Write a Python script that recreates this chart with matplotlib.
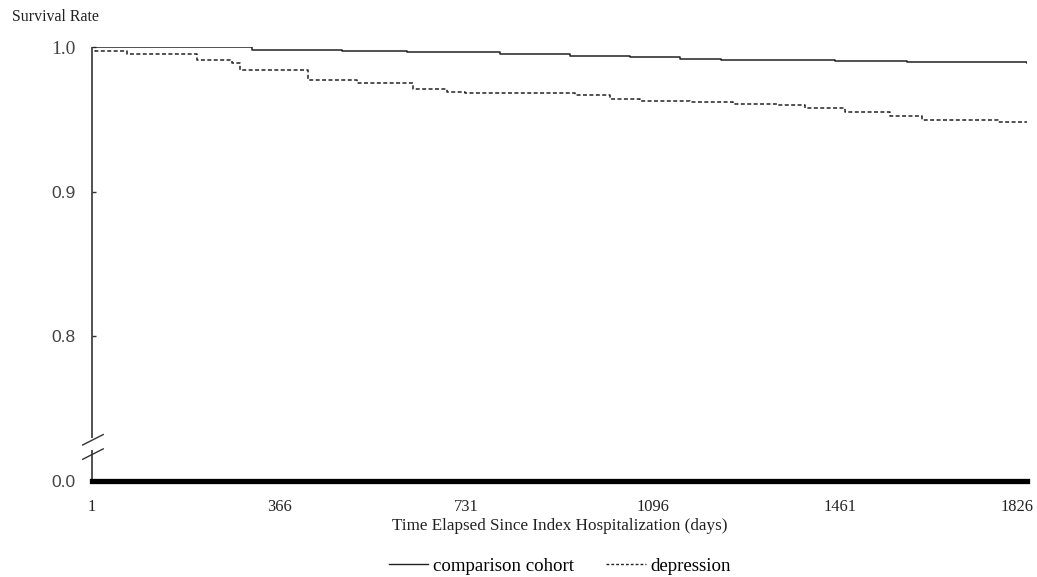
import matplotlib
matplotlib.use("Agg")
import matplotlib.pyplot as plt
from matplotlib.lines import Line2D
import matplotlib.transforms as mtransforms

# ---- data ----
days_cmp = [1, 313, 489, 616, 797, 934, 1051, 1149, 1229, 1451, 1592, 1826]
surv_cmp = [1.000, 0.998, 0.9971, 0.9962, 0.9950, 0.9940, 0.9928, 0.9920,
            0.9909, 0.9902, 0.9893, 0.9890]

days_dep = [1, 6, 69, 206, 274, 290, 423, 518, 628, 694, 729, 944, 1012,
            1071, 1168, 1252, 1340, 1393, 1471, 1559, 1621, 1770, 1826]
surv_dep = [1.000, 0.9973, 0.9951, 0.9911, 0.9888, 0.9842, 0.9773, 0.9751,
            0.9711, 0.9689, 0.9682, 0.9665, 0.9643, 0.9629, 0.9620, 0.9608,
            0.9597, 0.9579, 0.9548, 0.9521, 0.9498, 0.9480, 0.9480]

x_ticks = [1, 366, 731, 1096, 1461, 1826]
y_ticks = [0.7, 0.8, 0.9, 1.0]           # 0.7 position shows the broken-axis "0.0"
y_tick_labels = ["0.0", "0.8", "0.9", "1.0"]

W, H = 1037, 577
fig = plt.figure(figsize=(W / 100, H / 100), dpi=100)
left, right, top, bottom = 92, 1027, 47, 481
ax = fig.add_axes([left / W, 1 - bottom / H, (right - left) / W, (bottom - top) / H])

col = "#222222"
ax.step(days_cmp, surv_cmp, where="post", color=col, lw=1.1, label="comparison cohort")
ax.step(days_dep, surv_dep, where="post", color=col, lw=1.1, dashes=(2.6, 1.6),
        label="depression")

ax.set_xlim(1, 1826)
ax.set_ylim(0.7, 1.0)

for s in ["top", "right", "left"]:
    ax.spines[s].set_visible(False)
ax.spines["bottom"].set_linewidth(3.8)
ax.spines["bottom"].set_color("black")

# left axis with break
ax.plot([0, 0], [0, 0.072], transform=ax.transAxes, color="#333333", lw=1.2,
        clip_on=False, solid_capstyle="butt")
ax.plot([0, 0], [0.098, 1.0], transform=ax.transAxes, color="#333333", lw=1.2,
        clip_on=False, solid_capstyle="butt")
for yb in (0.062, 0.095):
    ax.plot([-0.010, 0.012], [yb - 0.012, yb + 0.012], transform=ax.transAxes,
            color="#333333", lw=1.0, clip_on=False)

serif = ["Liberation Serif", "DejaVu Serif"]
sans = ["Liberation Sans", "DejaVu Sans"]

ax.set_xticks(x_ticks)
ax.set_xticklabels([str(t) for t in x_ticks], family=serif, fontsize=11.8, color="#222222")
ax.tick_params(axis="x", length=0, pad=13)
lbls = ax.get_xticklabels()
lbls[-1].set_transform(lbls[-1].get_transform() +
                       mtransforms.ScaledTranslation(-10 / 100, 0, fig.dpi_scale_trans))

ax.set_yticks(y_ticks)
ax.set_yticklabels(y_tick_labels, fontsize=12.5, color="#444444")
for t, lab in zip(ax.get_yticklabels(), y_tick_labels):
    if lab == "1.0":
        t.set_family(serif)
        t.set_fontsize(14)
    else:
        t.set_family(sans)
ax.tick_params(axis="y", direction="in", length=3, width=1, color="#333333", pad=12)

ax.set_xlabel("Time Elapsed Since Index Hospitalization (days)", family=serif,
              fontsize=12.3, color="#222222", labelpad=2)

fig.text(12 / W, 1 - 17 / H, "Survival Rate", family=serif, fontsize=11.4,
         color="#222222", ha="left", va="center")

h1 = Line2D([], [], color=col, lw=1.0)
h2 = Line2D([], [], color=col, lw=1.0, dashes=(2, 1.5))
fig.legend([h1, h2], ["comparison cohort", "depression"], loc="center",
           bbox_to_anchor=(560 / W, 1 - 566 / H), ncol=2, frameon=False,
           prop={"family": serif, "size": 13.6}, handlelength=2.1,
           handletextpad=0.25, columnspacing=1.7)

fig.savefig("out.png", dpi=100)
